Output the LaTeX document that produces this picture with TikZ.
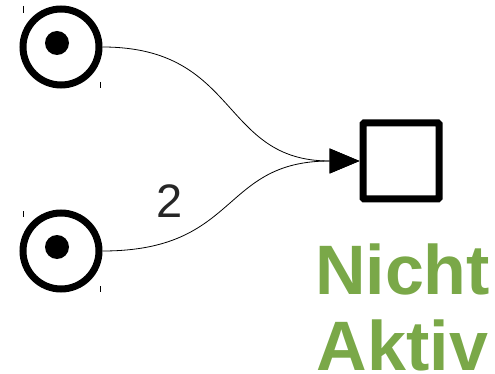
\documentclass[tikz,border=0pt]{standalone}
\usepackage{fontspec}
\setmainfont{Liberation Sans}
\usetikzlibrary{arrows.meta}
\definecolor{aktivgreen}{RGB}{122,168,72}
\begin{document}
\begin{tikzpicture}[x=1pt,y=-1pt,
  place/.style={circle,draw,line width=7pt,minimum size=76pt,inner sep=0pt},
  token/.style={circle,fill,minimum size=24pt,inner sep=0pt},
  trans/.style={rectangle,draw,line width=7pt,minimum size=76pt,inner sep=0pt,rounded corners=1pt},
  arc/.style={line width=0.8pt,-{Triangle[length=30pt,width=25pt]}},
  tick/.style={line width=0.9pt}]
\useasboundingbox (0,0) rectangle (495,374);
\node[place] (p1) at (61,47) {};
\node[place] (p2) at (61,251) {};
\node[token] (d1) at (57,43) {};
\node[token] (d2) at (57,247) {};
\node[trans] (t) at (401,161) {};
\coordinate (k1) at (23,6); \coordinate (k2) at (23,13);
\coordinate (k3) at (100,82); \coordinate (k4) at (100,88);
\coordinate (k5) at (23,211); \coordinate (k6) at (23,217);
\coordinate (k7) at (100,286); \coordinate (k8) at (100,292);
\draw[tick] (k1) -- (k2);
\draw[tick] (k3) -- (k4);
\draw[tick] (k5) -- (k6);
\draw[tick] (k7) -- (k8);
\draw[arc] (p1.east) .. controls (240,47) and (220,161) .. (t.west);
\draw[arc] (p2.east) .. controls (240,251) and (220,161) .. (t.west);
\node[anchor=base,font=\fontsize{47}{50}\selectfont,text=black!85] (w) at (169.5,217) {2};
\node[anchor=base,align=center,inner sep=0pt,text depth=0pt,text=aktivgreen,font=\bfseries\fontsize{70}{76}\selectfont] (lbl) at (402.5,370.5) {Nicht\\Aktiv};
\end{tikzpicture}
\end{document}
